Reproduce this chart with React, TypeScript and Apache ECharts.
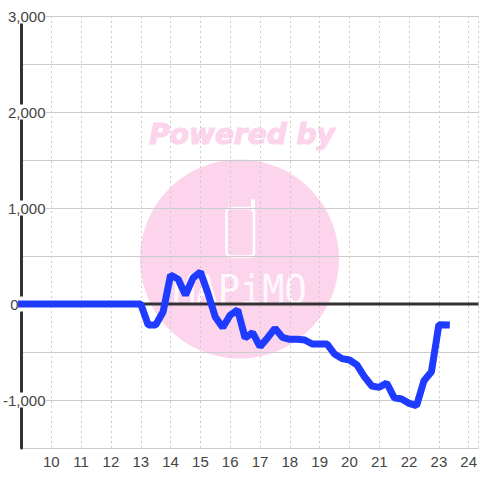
import React, { useEffect, useRef } from "react";
import * as echarts from "echarts";

const hours = [9, 9.25, 9.5, 9.75, 10, 10.25, 10.5, 10.75, 11, 11.25, 11.5, 11.75, 12, 12.25, 12.5, 12.75, 13, 13.25, 13.5, 13.75, 14, 14.25, 14.5, 14.75, 15, 15.25, 15.5, 15.75, 16, 16.25, 16.5, 16.75, 17, 17.25, 17.5, 17.75, 18, 18.25, 18.5, 18.75, 19, 19.25, 19.5, 19.75, 20, 20.25, 20.5, 20.75, 21, 21.25, 21.5, 21.75, 22, 22.25, 22.5, 22.75, 23, 23.25];
const values = [0, 0, 0, 0, 0, 0, 0, 0, 0, 0, 0, 0, 0, 0, 0, 0, 0, -219, -219, -80, 302, 260, 94, 270, 333, 115, -135, -245, -115, -62, -354, -299, -444, -354, -253, -347, -368, -368, -375, -417, -417, -417, -521, -569, -583, -635, -757, -854, -868, -823, -976, -990, -1035, -1059, -799, -705, -215, -217];
const zeroLineX = [9, 24.33];
const zeroLineY = [0, 0];
const watermarkTitle = "Powered by";
const watermarkBrand = "MAPiMO";

export default function App() {
  const ref = useRef<HTMLDivElement>(null);
  useEffect(() => {
    const chart = echarts.init(ref.current!, undefined, { renderer: "svg" });
    chart.setOption({
      animation: false,
      backgroundColor: "#fff",
      grid: { left: 20, right: 0, top: 16, bottom: 32 },
      graphic: [
        { type: "circle", z: -10, shape: { cx: 239.5, cy: 259, r: 99.5 }, style: { fill: "#fcd5ec" } },
        { type: "text", z: -10, x: 242, y: 134, style: { text: watermarkTitle, fill: "#fcd5ec", stroke: "#fcd5ec", lineWidth: 1.2, fontFamily: "DejaVu Sans", fontWeight: "bold", fontStyle: "italic", fontSize: 28, textAlign: "center", textVerticalAlign: "middle" } },
        { type: "rect", z: -9, shape: { x: 226.5, y: 208, width: 27.5, height: 48.5, r: 4 }, style: { fill: "none", stroke: "#fff", lineWidth: 2.5 } },
        { type: "line", z: -9, shape: { x1: 253, y1: 201, x2: 253, y2: 210 }, style: { stroke: "#fff", lineWidth: 4, lineCap: "round" } },
        { type: "text", z: -9, x: 240, y: 290, scaleX: 0.9, style: { text: watermarkBrand, fill: "#fff", opacity: 0.85, fontFamily: "DejaVu Sans Mono", fontSize: 41, textAlign: "center", textVerticalAlign: "middle" } },
      ],
      xAxis: {
        type: "value",
        min: 9,
        max: 24.33,
        interval: 1,
        axisLine: { show: false },
        axisTick: { show: false },
        axisLabel: { showMinLabel: false, showMaxLabel: false, color: "#444", fontSize: 15, fontFamily: "Liberation Sans", margin: 6 },
        splitLine: { show: true, lineStyle: { color: "#ccc", width: 1, type: [2, 3] } },
      },
      yAxis: {
        type: "value",
        min: -1500,
        max: 3000,
        interval: 500,
        axisLine: { show: true, onZero: false, lineStyle: { color: "#333", width: 3 } },
        axisTick: { show: false },
        axisLabel: {
          margin: -24,
          color: "#444",
          fontSize: 15,
          fontFamily: "Liberation Sans",
          backgroundColor: "#fff",
          formatter: (v: number) => (v === 0 ? "{z|0}" : v % 1000 === 0 ? v.toLocaleString("en-US") : ""),
          rich: { z: { color: "#444", fontSize: 15, fontFamily: "Liberation Sans", padding: [0, 27, 0, 0] } },
        },
        splitLine: { show: true, lineStyle: { color: "#ccc", width: 1 } },
      },
      series: [
        {
          type: "line",
          data: zeroLineX.map((x, i) => [x, zeroLineY[i]]),
          showSymbol: false,
          silent: true,
          lineStyle: { color: "#333", width: 3 },
          z: 3,
        },
        {
          type: "line",
          data: hours.map((h, i) => [h, values[i]]),
          showSymbol: false,
          lineStyle: { color: "#1f3bff", width: 7, cap: "square", join: "bevel" },
          z: 4,
        },
      ],
    });
    return () => chart.dispose();
  }, []);
  return <div ref={ref} style={{ position: "fixed", left: 0, top: 0, width: 480, height: 480 }} />;
}
